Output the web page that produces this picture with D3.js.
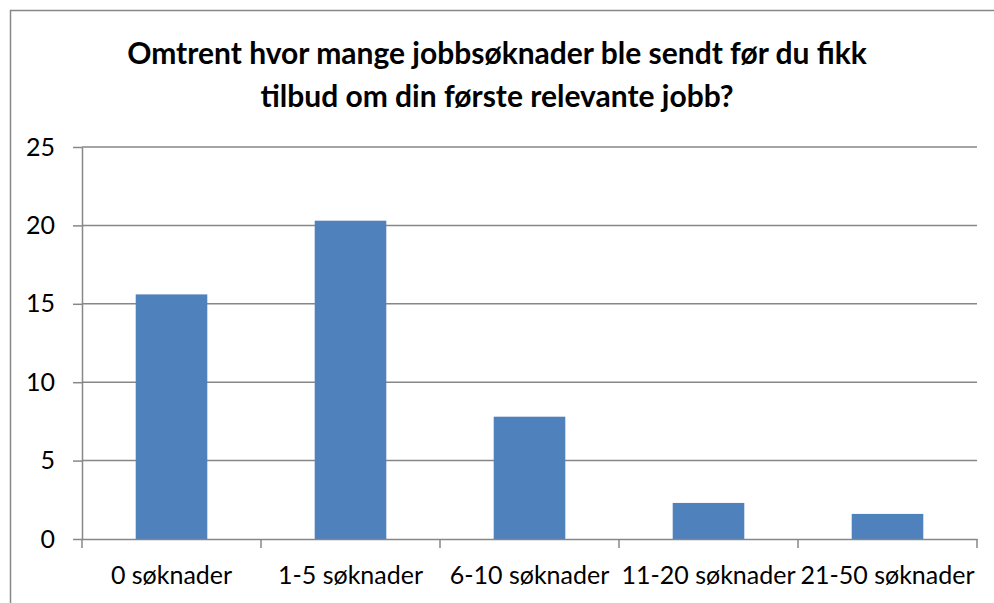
<!DOCTYPE html>
<html>
<head>
<meta charset="utf-8">
<script src="https://cdn.jsdelivr.net/npm/d3@7"></script>
<style>
  html, body { margin: 0; padding: 0; background: #fff; }
  svg { display: block; font-family: Lato, "Noto Sans", sans-serif; }
</style>
</head>
<body>
<svg id="chart" width="994" height="603"></svg>
<script>
// Chart data
const categories = ["0 søknader", "1-5 søknader", "6-10 søknader", "11-20 søknader", "21-50 søknader"];
const values = [15.6, 20.3, 7.8, 2.3, 1.6];
const yTicks = [0, 5, 10, 15, 20, 25];
const titleLines = [
  "Omtrent hvor mange jobbsøknader ble sendt før du fikk",
  "tilbud om din første relevante jobb?"
];

const width = 994, height = 603;
const margin = { top: 147, right: 17, bottom: 64, left: 82 };

const svg = d3.select("#chart");

// Outer chart border (only left/top visible in the crop)
svg.append("rect")
  .attr("x", 10.5)
  .attr("y", 10.5)
  .attr("width", width + 20)
  .attr("height", height + 20)
  .attr("fill", "#fff")
  .attr("stroke", "#878787")
  .attr("stroke-width", 1.5);

// Title
svg.append("g")
  .selectAll("text")
  .data(titleLines)
  .enter()
  .append("text")
  .attr("x", 497)
  .attr("y", (d, i) => 64 + i * 43)
  .attr("text-anchor", "middle")
  .style("font-weight", "bold")
  .style("font-size", "30px")
  .style("fill", "#000")
  .text((d) => d);

const x = d3.scaleBand()
  .domain(categories)
  .range([margin.left, width - margin.right])
  .paddingInner(0.6)
  .paddingOuter(0.3);

const xOuter = d3.scaleBand()
  .domain(categories)
  .range([margin.left, width - margin.right]);

const y = d3.scaleLinear()
  .domain([0, 25])
  .range([height - margin.bottom, margin.top]);

// Gridlines
svg.append("g")
  .selectAll("line")
  .data(yTicks.filter((d) => d > 0))
  .enter()
  .append("line")
  .attr("x1", margin.left)
  .attr("x2", width - margin.right)
  .attr("y1", (d) => y(d))
  .attr("y2", (d) => y(d))
  .attr("stroke", "#878787")
  .attr("stroke-width", 1.5);

// Bars
svg.append("g")
  .selectAll("rect")
  .data(values)
  .enter()
  .append("rect")
  .attr("x", (d, i) => x(categories[i]))
  .attr("y", (d) => y(d))
  .attr("width", x.bandwidth())
  .attr("height", (d) => y(0) - y(d))
  .attr("fill", "#4F81BD");

// Y axis
const yAxis = svg.append("g")
  .attr("transform", `translate(${margin.left},0)`)
  .call(d3.axisLeft(y).tickValues(yTicks).tickSize(9).tickSizeOuter(0).tickPadding(18));

// X axis: ticks between categories
const xAxis = svg.append("g")
  .attr("transform", `translate(0,${y(0)})`)
  .call(d3.axisBottom(xOuter).tickSize(0).tickPadding(27));

xAxis.selectAll(".boundary")
  .data(d3.range(categories.length + 1))
  .enter()
  .append("line")
  .attr("class", "boundary")
  .attr("x1", (d) => margin.left + d * xOuter.step())
  .attr("x2", (d) => margin.left + d * xOuter.step())
  .attr("y1", 0)
  .attr("y2", 9);

[yAxis, xAxis].forEach((g) => {
  g.select(".domain").attr("stroke", "#878787").attr("stroke-width", 1.5);
  g.selectAll("line").attr("stroke", "#878787").attr("stroke-width", 1.5);
  g.selectAll("text")
    .style("font-family", "Lato, 'Noto Sans', sans-serif")
    .style("font-size", "25px")
    .style("fill", "#000");
});
xAxis.selectAll(".tick text").attr("dy", "0.71em");
</script>
</body>
</html>
